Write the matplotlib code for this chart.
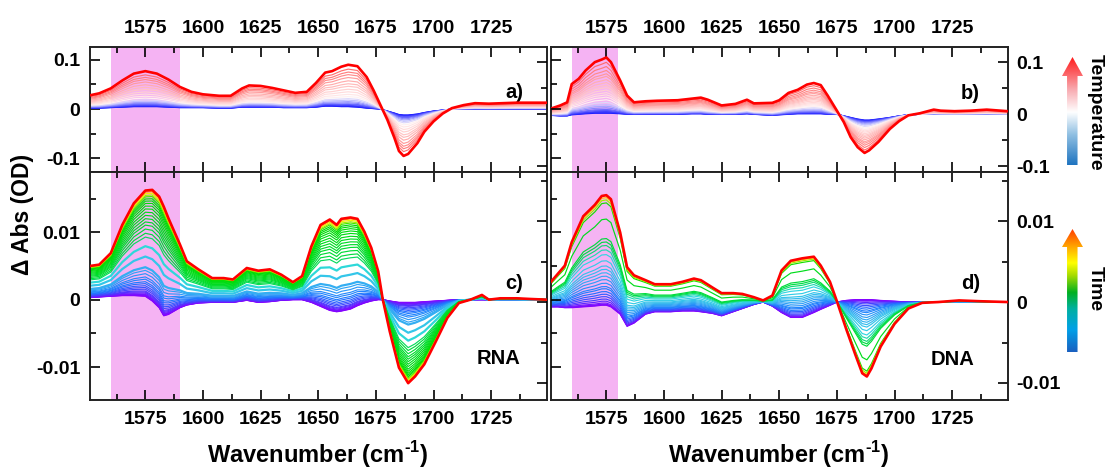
import numpy as np
import matplotlib
matplotlib.use('Agg')
import matplotlib.pyplot as plt
from matplotlib.colors import LinearSegmentedColormap
from matplotlib.patches import Polygon

plt.rcParams['font.family'] = ['Liberation Sans', 'DejaVu Sans']
plt.rcParams['font.weight'] = 'bold'
plt.rcParams['axes.unicode_minus'] = False
plt.rcParams['mathtext.fontset'] = 'custom'
plt.rcParams['mathtext.rm'] = 'Liberation Sans:bold'
plt.rcParams['mathtext.bf'] = 'Liberation Sans:bold'

# ---- data ----
# a) RNA, temperature series
wn_a = [1551, 1555, 1560, 1565, 1570, 1575, 1580, 1585, 1590, 1595, 1600, 1607, 1612, 1617, 1620,
        1625, 1630, 1635, 1640, 1645, 1649, 1653, 1656, 1660, 1663, 1667, 1671, 1674, 1677, 1680,
        1683, 1685, 1687, 1689, 1693, 1696, 1700, 1704, 1708, 1713, 1718, 1724, 1730, 1736, 1742, 1749]
final_a = [0.028, 0.032, 0.042, 0.058, 0.072, 0.077, 0.072, 0.060, 0.045, 0.035, 0.030, 0.027, 0.027, 0.042, 0.048,
           0.047, 0.043, 0.038, 0.033, 0.035, 0.053, 0.074, 0.077, 0.086, 0.090, 0.087, 0.065, 0.038, 0.008, -0.022,
           -0.058, -0.085, -0.095, -0.091, -0.069, -0.046, -0.025, -0.009, 0.002, 0.008, 0.012, 0.011, 0.012, 0.013, 0.013, 0.013]
early_a = [0.002, 0.002, 0.003, 0.004, 0.005, 0.005, 0.005, 0.004, 0.003, 0.003, 0.003, 0.002, 0.002, 0.004, 0.004,
           0.004, 0.004, 0.003, 0.003, 0.003, 0.004, 0.006, 0.006, 0.005, 0.005, 0.004, 0.002, 0.001, 0.0, -0.004,
           -0.008, -0.011, -0.012, -0.012, -0.010, -0.007, -0.004, -0.002, 0.0, 0.0, 0.0, 0.0, 0.0, 0.0, 0.0, 0.0]
w_a = [0.0, 0.005, 0.015, 0.03, 0.05, 0.066, 0.092, 0.12, 0.154, 0.19, 0.24, 0.293, 0.354, 0.415,
       0.485, 0.546, 0.616, 0.695, 0.764, 0.825, 0.895, 1.0]

# b) DNA, temperature series
wn_b = [1551, 1555, 1558, 1560, 1563, 1566, 1570, 1573, 1575, 1577, 1581, 1584, 1587, 1592, 1597, 1606,
        1612, 1616, 1619, 1625, 1631, 1636, 1639, 1647, 1650, 1654, 1658, 1662, 1665, 1668, 1671, 1675,
        1678, 1681, 1684, 1687, 1689, 1693, 1698, 1702, 1706, 1711, 1717, 1720, 1726, 1733, 1740, 1749]
final_b = [0.011, 0.017, 0.023, 0.058, 0.068, 0.084, 0.100, 0.105, 0.109, 0.100, 0.065, 0.036, 0.023, 0.025, 0.026, 0.027,
           0.030, 0.032, 0.028, 0.017, 0.020, 0.028, 0.021, 0.022, 0.027, 0.041, 0.047, 0.057, 0.060, 0.056, 0.036, 0.007,
           -0.015, -0.044, -0.063, -0.074, -0.069, -0.053, -0.028, -0.013, -0.002, 0.002, 0.009, 0.007, 0.006, 0.007, 0.009, 0.006]
early_b = [-0.002, -0.003, -0.003, -0.001, 0.0, 0.001, 0.002, 0.002, 0.002, 0.002, 0.001, 0.0, 0.0, 0.0, 0.0, 0.0,
           0.001, 0.001, 0.0, 0.0, 0.0, 0.001, 0.0, -0.002, -0.001, 0.0, 0.001, 0.001, 0.001, 0.001, 0.0, 0.0,
           -0.003, -0.006, -0.009, -0.011, -0.011, -0.009, -0.006, -0.003, -0.001, 0.0, 0.0, 0.0, 0.0, 0.0, 0.0, 0.0]
w_b = [0.0, 0.01, 0.02, 0.03, 0.05, 0.067, 0.096, 0.126, 0.155, 0.195, 0.242, 0.289, 0.33, 0.37,
       0.417, 0.463, 0.504, 0.551, 0.603, 0.662, 0.708, 0.767, 0.837, 0.913, 1.0]

# c) RNA, time series
wn_c = [1551, 1555, 1560, 1565, 1570, 1575, 1578, 1581, 1583, 1585, 1590, 1593, 1598, 1604, 1609, 1613,
        1619, 1624, 1629, 1634, 1639, 1643, 1647, 1651, 1655, 1658, 1660, 1664, 1667, 1670, 1673, 1676,
        1678, 1681, 1685, 1689, 1692, 1696, 1701, 1706, 1711, 1716, 1721, 1724, 1729, 1736, 1742, 1749]
final_c = [0.0050, 0.0052, 0.0069, 0.0111, 0.0143, 0.0162, 0.0163, 0.0153, 0.0138, 0.0121, 0.0082, 0.0057, 0.0045, 0.0032,
           0.0032, 0.0030, 0.0047, 0.0043, 0.0045, 0.0037, 0.0026, 0.0035, 0.0079, 0.0111, 0.0119, 0.0111, 0.0120, 0.0122,
           0.0120, 0.0101, 0.0077, 0.0042, 0.0, -0.0047, -0.0101, -0.0124, -0.0114, -0.0096, -0.0062, -0.0027, -0.0005,
           0.0, 0.0007, 0.0, 0.0002, 0.0002, 0.0001, 0.0]
early_c = [0.0003, 0.0004, 0.0005, 0.0006, 0.0006, 0.0005, -0.0002, -0.0012, -0.0024, -0.0022, -0.0012, -0.0008, -0.0005,
           -0.0004, -0.0004, -0.0004, -0.0001, -0.0004, -0.0003, -0.0001, 0.0, 0.0, -0.0004, -0.0010, -0.0016, -0.0018,
           -0.0017, -0.0014, -0.0009, -0.0005, -0.0002, 0.0, 0.0, -0.0002, -0.0004, -0.0004, -0.0004, -0.0003, -0.0002,
           -0.0001, 0.0, 0.0, 0.0, 0.0, 0.0, 0.0, 0.0, 0.0]
w_c = [0.0, 0.003, 0.006, 0.01, 0.015, 0.02, 0.03, 0.04, 0.05, 0.067, 0.083, 0.10, 0.12, 0.138, 0.162,
       0.183, 0.214, 0.245, 0.275, 0.376, 0.474, 0.56, 0.596, 0.636, 0.673, 0.703, 0.734, 0.765, 0.795,
       0.826, 0.853, 0.878, 0.90, 0.92, 0.94, 0.954, 0.97, 0.985, 1.0]

# d) DNA, time series
wn_d = [1551, 1554, 1557, 1560, 1565, 1570, 1573, 1575, 1577, 1581, 1584, 1587, 1592, 1596, 1603,
        1608, 1613, 1616, 1621, 1625, 1630, 1634, 1639, 1643, 1647, 1651, 1655, 1660, 1665, 1668,
        1672, 1675, 1679, 1683, 1686, 1688, 1690, 1694, 1700, 1706, 1712, 1719, 1728, 1737, 1749]
final_d = [0.0025, 0.0035, 0.0045, 0.0074, 0.0106, 0.0120, 0.0131, 0.0132, 0.0127, 0.0086, 0.0043, 0.0033, 0.0027, 0.0022,
           0.0022, 0.0025, 0.0029, 0.0027, 0.0018, 0.0011, 0.0011, 0.0010, 0.0006, 0.0002, 0.0008, 0.0039, 0.0051, 0.0054,
           0.0056, 0.0045, 0.0025, 0.0001, -0.0033, -0.0065, -0.0088, -0.0092, -0.0082, -0.0055, -0.0027, -0.0008,
           -0.0001, 0.0, 0.0002, 0.0001, 0.0]
early_d = [-0.0006, -0.0006, -0.0007, -0.0007, -0.0006, -0.0005, -0.0004, -0.0004, -0.0006, -0.0015, -0.0030, -0.0026,
           -0.0015, -0.0012, -0.0012, -0.0011, -0.0011, -0.0012, -0.0014, -0.0017, -0.0012, -0.0008, -0.0003, 0.0,
           -0.0005, -0.0013, -0.0019, -0.0019, -0.0013, -0.0009, -0.0004, 0.0, 0.0002, 0.0003, 0.0003, 0.0003, 0.0003,
           0.0002, 0.0001, 0.0, 0.0, 0.0, 0.0, 0.0, 0.0]
w_d = [0.0, 0.005, 0.01, 0.02, 0.037, 0.056, 0.078, 0.10, 0.124, 0.15, 0.17, 0.20, 0.233, 0.264, 0.295,
       0.326, 0.357, 0.404, 0.46, 0.503, 0.543, 0.575, 0.606, 0.783, 0.93, 0.957, 0.978, 1.0]

x_ticks = [1575, 1600, 1625, 1650, 1675, 1700, 1725]
top_yticks = [-0.1, 0, 0.1]
top_ylabels = ['-0.1', '0', '0.1']
bot_yticks = [-0.01, 0, 0.01]
bot_ylabels = ['-0.01', '0', '0.01']

# ---- colours ----
temp_cmap = LinearSegmentedColormap.from_list('temp', [
    (0.0, '#1c1cff'), (0.07, '#6f6fff'), (0.16, '#c8c8ff'), (0.24, '#fff0f0'),
    (0.6, '#ffb0b0'), (0.92, '#ff6a6a'), (1.0, '#ff0000')])
time_cmap = LinearSegmentedColormap.from_list('time', [
    (0.0, '#8a00ff'), (0.05, '#4a3cff'), (0.13, '#1e78ff'), (0.3, '#38b8f0'),
    (0.47, '#30d8e0'), (0.58, '#00dc40'), (0.93, '#00dc00'), (0.96, '#b0f000'),
    (0.975, '#ffee00'), (0.99, '#ff9000'), (1.0, '#ff0000')])
temp_arrow = LinearSegmentedColormap.from_list('ta', [
    (0.0, '#1f74c0'), (0.28, '#8fbfe2'), (0.49, '#ffffff'), (0.7, '#f8aab0'), (1.0, '#ff1a1a')])
time_arrow = LinearSegmentedColormap.from_list('tt', [
    (0.0, '#1a60c0'), (0.18, '#00a0e8'), (0.35, '#00b0a0'), (0.48, '#00b020'), (0.62, '#a8dc00'),
    (0.72, '#ffff00'), (0.86, '#ffa000'), (1.0, '#ff3800')])
band_color = '#f5b3f3'

W, H = 1106, 471
fig = plt.figure(figsize=(W / 100, H / 100), dpi=100)


def box(x0, y0, x1, y1):
    return [x0 / W, 1 - y1 / H, (x1 - x0) / W, (y1 - y0) / H]


ax_a = fig.add_axes(box(90, 46.5, 546.5, 171.7))
ax_b = fig.add_axes(box(551, 46.5, 1007.5, 171.7))
ax_c = fig.add_axes(box(90, 171.7, 546.5, 400))
ax_d = fig.add_axes(box(551, 171.7, 1007.5, 400))

panels = [
    (ax_a, wn_a, final_a, early_a, w_a, temp_cmap, (1560, 1590), (-0.127, 0.127), 'top', 'left'),
    (ax_b, wn_b, final_b, early_b, w_b, temp_cmap, (1560, 1580), (-0.11, 0.13), 'top', 'right'),
    (ax_c, wn_c, final_c, early_c, w_c, time_cmap, (1560, 1590), (-0.0149, 0.019), 'bottom', 'left'),
    (ax_d, wn_d, final_d, early_d, w_d, time_cmap, (1560, 1580), (-0.0121, 0.0161), 'bottom', 'right'),
]
thick_c = [0.275, 0.376, 0.474]

for ax, wn, fin, early, ws, cmap, band, ylim, xside, yside in panels:
    wn = np.array(wn)
    fin = np.array(fin)
    early = np.array(early)
    ax.axvspan(band[0], band[1], color=band_color, lw=0, zorder=0)
    for w in ws:
        y = w * fin + (1 - w) * early
        if w == 1.0:
            ax.plot(wn, y, color='#ff0000', lw=1.9, zorder=5)
        else:
            lw = 1.6 if (ax is ax_c and w in thick_c) else 0.85
            ax.plot(wn, y, color=cmap(w), lw=lw, zorder=2)
    ax.set_xlim(1551, 1749)
    ax.set_ylim(*ylim)

    ax.set_xticks(x_ticks)
    ax.set_xticks(np.arange(1562.5, 1749, 25), minor=True)
    if xside == 'top':
        ax.set_yticks(top_yticks, top_ylabels)
        ax.set_yticks([-0.05, 0.05], minor=True)
        ax.tick_params(axis='x', labeltop=True, labelbottom=False, pad=7)
    else:
        ax.set_yticks(bot_yticks, bot_ylabels)
        ax.set_yticks([-0.005, 0.005, 0.015], minor=True)
        ax.tick_params(axis='x', labeltop=False, labelbottom=True, pad=8)
    ax.tick_params(which='both', direction='in', top=True, bottom=True, width=1.2, labelsize=14)
    ax.tick_params(which='major', length=7)
    ax.tick_params(which='minor', length=4)
    if yside == 'left':
        ax.tick_params(axis='y', left=True, right=False, labelleft=True, labelright=False, pad=7)
    else:
        ax.tick_params(axis='y', left=False, right=True, labelleft=False, labelright=True, pad=6)
    for s in ax.spines.values():
        s.set_linewidth(1.4)
        s.set_color('#222222')

# ticks of the neighbouring panel's scale on the shared inner spines
pairs = [(ax_a, ax_b, 'right'), (ax_b, ax_a, 'left'), (ax_c, ax_d, 'right'), (ax_d, ax_c, 'left')]
for ax, other, side in pairs:
    tw = ax.twinx()
    tw.set_yticks(other.get_yticks())
    tw.set_yticks(other.get_yticks(minor=True), minor=True)
    tw.set_ylim(other.get_ylim())
    if side == 'left':
        tw.yaxis.tick_left()
    else:
        tw.yaxis.tick_right()
    tw.tick_params(which='both', direction='in', width=1.2, labelleft=False, labelright=False)
    tw.tick_params(which='major', length=7)
    tw.tick_params(which='minor', length=4)
    for s in tw.spines.values():
        s.set_visible(False)
    if side == 'right':
        ax.yaxis.tick_left()
    else:
        ax.yaxis.tick_right()

# panel labels
ax_a.text(1735, 0.033, 'a)', ha='center', va='center', fontsize=14.5, fontweight='bold')
ax_b.text(1733, 0.039, 'b)', ha='center', va='center', fontsize=14.5, fontweight='bold')
ax_c.text(1735, 0.0024, 'c)', ha='center', va='center', fontsize=14.5, fontweight='bold')
ax_c.text(1728, -0.0088, 'RNA', ha='center', va='center', fontsize=14.5, fontweight='bold')
ax_d.text(1733, 0.0023, 'd)', ha='center', va='center', fontsize=14.5, fontweight='bold')
ax_d.text(1725, -0.0071, 'DNA', ha='center', va='center', fontsize=14.5, fontweight='bold')

xlab = r'Wavenumber (cm$^{\text{-1}}$)'
fig.text(318 / W, 1 - 455 / H, xlab, ha='center', va='center', fontsize=17, fontweight='bold')
fig.text(779 / W, 1 - 455 / H, xlab, ha='center', va='center', fontsize=17, fontweight='bold')
fig.text(22 / W, 1 - 214 / H, '\u0394 Abs (OD)', ha='center', va='center', rotation=90,
         fontsize=16.5, fontweight='bold')


# gradient arrows acting as colour keys
def gradient_arrow(x0, y_tip, x1, y_bot, head_px, cmap):
    axa = fig.add_axes(box(x0, y_tip, x1, y_bot))
    im = axa.imshow(np.linspace(0, 1, 256)[:, None], cmap=cmap, origin='lower',
                    extent=[0, 1, 0, 1], aspect='auto')
    hb = 1 - head_px / (y_bot - y_tip)
    poly = Polygon([[0.24, 0], [0.74, 0], [0.74, hb], [1, hb], [0.5, 1], [0, hb], [0.24, hb]],
                   closed=True, transform=axa.transAxes, facecolor='none', edgecolor='none')
    axa.add_patch(poly)
    im.set_clip_path(poly)
    axa.set_xlim(0, 1)
    axa.set_ylim(0, 1)
    axa.axis('off')


gradient_arrow(1062, 57, 1083, 165, 19, temp_arrow)
gradient_arrow(1062, 229, 1083, 352, 18, time_arrow)
fig.text(1095.5 / W, 1 - 112 / H, 'Temperature', rotation=270, ha='center', va='center',
         fontsize=14, fontweight='bold')
fig.text(1095.5 / W, 1 - 289 / H, 'Time', rotation=270, ha='center', va='center',
         fontsize=14, fontweight='bold')

fig.savefig('out.png', dpi=100)
